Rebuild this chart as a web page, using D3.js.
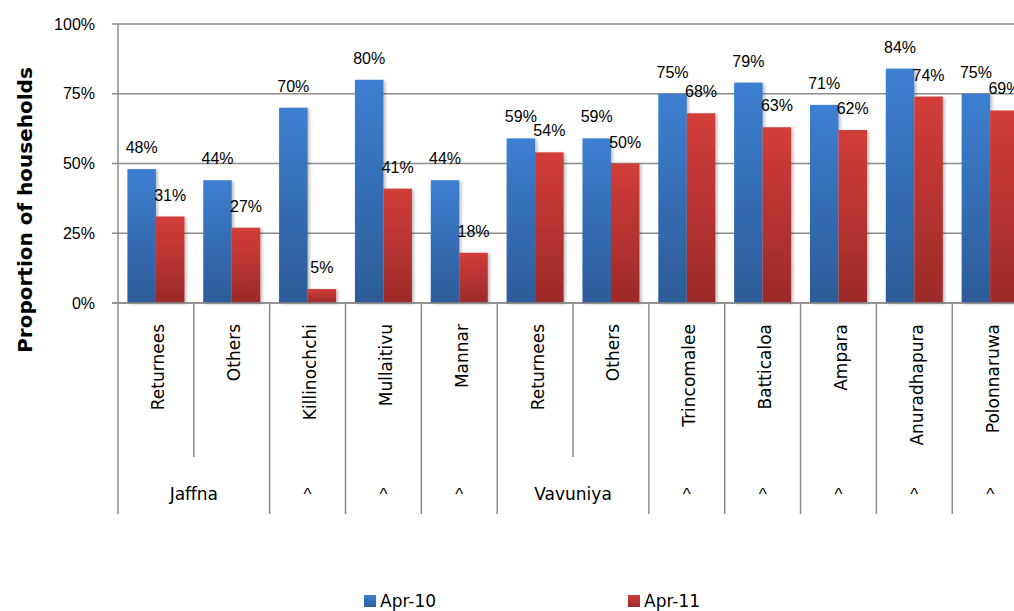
<!DOCTYPE html>
<html>
<head>
<meta charset="utf-8">
<script src="https://cdn.jsdelivr.net/npm/d3@7"></script>
<style>
  html, body { margin: 0; padding: 0; background: #fff; }
  svg { display: block; font-family: "DejaVu Sans", sans-serif; }
</style>
</head>
<body>
<svg id="chart" width="1014" height="611"></svg>
<script>
// ---- data ----
const categories = ["Returnees", "Others", "Killinochchi", "Mullaitivu", "Mannar", "Returnees", "Others", "Trincomalee", "Batticaloa", "Ampara", "Anuradhapura", "Polonnaruwa"];
const groupNames = ["Jaffna", "^", "^", "^", "Vavuniya", "^", "^", "^", "^", "^"];
const groupSpans = [2, 1, 1, 1, 2, 1, 1, 1, 1, 1];
const seriesNames = ["Apr-10", "Apr-11"];
const apr10 = [48, 44, 70, 80, 44, 59, 59, 75, 79, 71, 84, 75];
const apr11 = [31, 27, 5, 41, 18, 54, 50, 68, 63, 62, 74, 69];
const yTicks = [0, 25, 50, 75, 100];
const yTitle = "Proportion of households";

const seriesValues = [apr10, apr11];
const colors = [
  { top: "#3d7fd1", bottom: "#2d5b98" },
  { top: "#d23d39", bottom: "#9c2a29" }
];

(function () {
// ---- layout ----
const svg = d3.select("#chart");
const pLeft = 118, pTop = 24, pBottom = 303;
const step = 75.84;
const pRight = pLeft + step * categories.length;
const numFont = "Liberation Sans";

const x = d3.scaleBand()
  .domain(d3.range(categories.length))
  .range([pLeft, pRight])
  .paddingInner(0.248)
  .paddingOuter(0.124);
const xs = d3.scaleBand().domain(d3.range(seriesNames.length)).range([0, x.bandwidth()]);
const y = d3.scaleLinear().domain([0, 100]).range([pBottom, pTop]);

const defs = svg.append("defs");
colors.forEach((c, i) => {
  const g = defs.append("linearGradient").attr("id", "grad" + i)
    .attr("x1", 0).attr("y1", 0).attr("x2", 0).attr("y2", 1);
  g.append("stop").attr("offset", "0%").attr("stop-color", c.top);
  g.append("stop").attr("offset", "100%").attr("stop-color", c.bottom);
});
const f = defs.append("filter").attr("id", "shadow").attr("x", "-20%").attr("y", "-20%").attr("width", "150%").attr("height", "150%");
f.append("feDropShadow").attr("dx", 2).attr("dy", 1).attr("stdDeviation", 1.6)
  .attr("flood-color", "#000").attr("flood-opacity", 0.25);

// gridlines
svg.append("g").selectAll("line").data(yTicks).join("line")
  .attr("x1", pLeft - 6).attr("x2", 1014)
  .attr("y1", d => y(d)).attr("y2", d => y(d))
  .attr("stroke", "#8c8c8c").attr("stroke-width", 1.5);

// y axis labels
const yAxis = d3.axisLeft(y).tickValues(yTicks).tickFormat(d => d + "%").tickSize(6).tickPadding(17);
const yg = svg.append("g").attr("transform", `translate(${pLeft},0)`).call(yAxis);
yg.select(".domain").remove();
yg.selectAll(".tick line").remove();
yg.selectAll("text").attr("font-family", numFont).attr("font-size", 16).attr("fill", "#000");

// bars
seriesValues.forEach((vals, si) => {
  svg.append("g").attr("filter", "url(#shadow)").selectAll("rect").data(vals).join("rect")
    .attr("x", (d, i) => x(i) + xs(si))
    .attr("y", d => y(d))
    .attr("width", xs.bandwidth())
    .attr("height", d => y(0) - y(d))
    .attr("fill", `url(#grad${si})`);
});

// axes lines
svg.append("line").attr("x1", pLeft).attr("x2", pLeft).attr("y1", pTop).attr("y2", 514)
  .attr("stroke", "#8c8c8c").attr("stroke-width", 1.5);
svg.append("line").attr("x1", pLeft - 6).attr("x2", 1014).attr("y1", pBottom).attr("y2", pBottom)
  .attr("stroke", "#8c8c8c").attr("stroke-width", 1.5);

// category separators
const groupBounds = new Set([0]);
let acc = 0;
groupSpans.forEach(s => { acc += s; groupBounds.add(acc); });
svg.append("g").selectAll("line").data(d3.range(1, categories.length + 1)).join("line")
  .attr("x1", i => pLeft + step * i).attr("x2", i => pLeft + step * i)
  .attr("y1", pBottom).attr("y2", i => groupBounds.has(i) ? 514 : 457)
  .attr("stroke", "#8c8c8c").attr("stroke-width", 1.5);

// data labels
seriesValues.forEach((vals, si) => {
  svg.append("g").selectAll("text").data(vals).join("text")
    .attr("x", (d, i) => x(i) + xs(si) + xs.bandwidth() / 2)
    .attr("y", d => y(d) - 16)
    .attr("text-anchor", "middle")
    .attr("font-family", numFont)
    .attr("font-size", 16)
    .attr("fill", "#000")
    .text(d => d + "%");
});

// category labels
svg.append("g").selectAll("text").data(categories).join("text")
  .attr("transform", (d, i) => `translate(${pLeft + step * (i + 0.5) + 8.5},324) rotate(-90)`)
  .attr("text-anchor", "end")
  .attr("font-size", 17)
  .attr("fill", "#000")
  .text(d => d);

// group labels
let start = 0;
const groupPos = groupSpans.map(s => { const c = start + s / 2; start += s; return c; });
svg.append("g").selectAll("text").data(groupNames).join("text")
  .attr("x", (d, i) => pLeft + step * groupPos[i])
  .attr("y", 500)
  .attr("text-anchor", "middle")
  .attr("font-family", d => d === "^" ? numFont : null)
  .attr("font-size", 17)
  .attr("fill", "#000")
  .text(d => d);

// y title
svg.append("text")
  .attr("transform", "translate(32,210) rotate(-90)")
  .attr("text-anchor", "middle")
  .attr("font-size", 20)
  .attr("font-weight", "bold")
  .attr("fill", "#000")
  .text(yTitle);

// legend
const legendX = [364, 628];
seriesNames.forEach((n, i) => {
  svg.append("rect").attr("x", legendX[i]).attr("y", 595).attr("width", 12).attr("height", 12)
    .attr("fill", `url(#grad${i})`);
  svg.append("text").attr("x", legendX[i] + 16).attr("y", 607)
    .attr("font-size", 17).attr("fill", "#000").text(n);
});
})();
</script>
</body>
</html>
